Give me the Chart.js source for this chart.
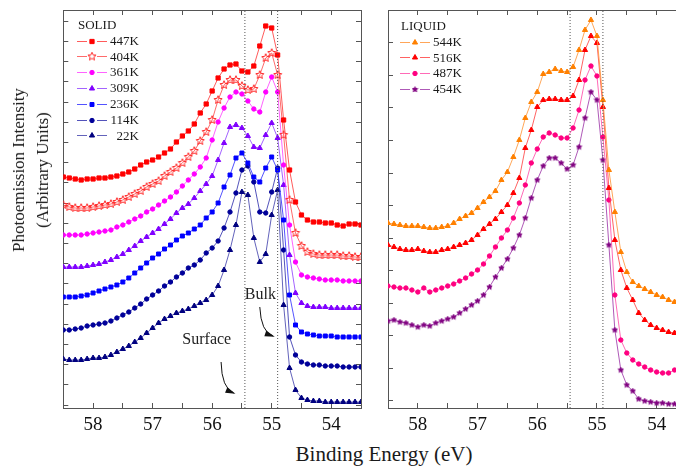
<!DOCTYPE html>
<html>
<head>
<meta charset="utf-8">
<script src="https://cdn.jsdelivr.net/npm/chart.js@4.4.0/dist/chart.umd.min.js"></script>
<style>
  html, body { margin: 0; padding: 0; background: #fff; overflow: hidden; }
  body { width: 676px; height: 466px; position: relative; font-family: "Liberation Serif", "DejaVu Serif", serif; color: #1a1a1a; }
  .box { position: absolute; top: 0; }
  #solidBox { left: 0; }
  #liquidBox { left: 330px; }
  .ytitle { position: absolute; left: 31px; top: 170px; transform: translate(-50%, -50%) rotate(-90deg);
            white-space: nowrap; text-align: center; font-size: 17px; line-height: 24px; }
  .xtitle { position: absolute; left: 384px; top: 454px; transform: translate(-50%, -50%); white-space: nowrap; font-size: 21px; }
  .legend { position: absolute; font-size: 13px; line-height: 15.8px; }
  .legend .head { margin-left: 2px; }
  .legend .row { display: flex; align-items: center; height: 15.8px; }
  .legend canvas { display: block; margin-right: 2px; }
  .legend .lab { display: inline-block; width: 29px; text-align: right; }
</style>
</head>
<body>
<div class="box" id="solidBox"><canvas id="solidChart" width="372" height="440"></canvas></div>
<div class="box" id="liquidBox"><canvas id="liquidChart" width="370" height="440"></canvas></div>
<div class="ytitle">Photoemission Intensity<br>(Arbitrary Units)</div>
<div class="xtitle">Binding Energy (eV)</div>
<div class="legend" id="solidLegend" style="left:76px; top:17px;"></div>
<div class="legend" id="liquidLegend" style="left:399px; top:18px;"></div>
<script>
// binding energy grid (eV), tick labels
const solidEnergy = Array.from({ length: 51 }, (_, i) => +(58.5 - 0.1 * i).toFixed(1));
const liquidEnergy = Array.from({ length: 49 }, (_, i) => +(58.5 - 0.1 * i).toFixed(1));
const xTickValues = [58.5, 58, 57.5, 57, 56.5, 56, 55.5, 55, 54.5, 54, 53.5];
const xTickLabels = [58, 57, 56, 55, 54];
const bulkSurfaceLines = [55.45, 54.9];

// SOLID
const solidLabels = ['447K', '404K', '361K', '309K', '236K', '114K', '22K'];
const s447 = [231,230,229,228,229,229,230,230,231,232,234,236,239,243,246,248,251,255,259,266,272,277,284,295,304,317,330,339,343,344,337,336,342,362,382,380,353,288,238,206,193,188,186,186,185,185,183,182,184,184,183];
const s404 = [203,201,200,200,200,201,202,203,204,206,208,211,214,217,221,224,227,232,236,240,245,251,257,267,276,288,308,323,328,328,322,318,319,333,350,355,333,273,208,175,162,156,154,153,153,153,153,152,152,151,151];
const s361 = [173,173,173,173,174,175,176,177,178,181,183,186,189,192,196,199,203,207,211,216,222,228,234,241,250,268,286,300,311,316,314,307,299,296,316,331,316,243,183,146,133,131,130,129,128,128,128,127,127,127,127];
const s309 = [141,141,141,141,142,143,144,146,148,151,154,158,162,167,171,175,179,184,189,195,200,204,210,217,224,232,248,265,281,283,280,272,261,260,273,285,270,223,153,115,105,102,101,101,101,100,100,100,100,100,100];
const s236 = [111,111,111,112,113,115,117,119,121,123,126,130,135,140,145,150,154,159,163,168,172,175,179,183,190,196,205,221,233,250,255,245,231,226,240,251,238,188,113,83,76,74,73,72,72,72,71,71,71,71,71];
const s114 = [78,78,79,80,82,83,84,85,87,90,93,96,100,104,109,113,117,122,126,131,135,140,143,148,155,160,167,180,196,215,238,242,226,196,195,216,240,158,71,53,46,44,43,43,42,42,42,41,41,41,41];
const s22 = [49,48,48,48,49,50,50,51,53,56,59,62,66,70,75,80,85,89,92,95,97,99,102,105,108,113,122,138,158,183,216,213,170,146,154,193,218,103,40,18,10,8,7,7,6,6,6,6,6,6,6];

// LIQUID
const liquidLabels = ['544K', '516K', '487K', '454K'];
const l544 = [185,184,183,182,182,182,181,180,180,181,182,185,189,192,195,200,206,211,217,228,236,251,268,290,306,316,334,336,339,337,336,341,358,378,388,372,308,238,196,156,136,126,122,119,116,113,111,108,106];
const l516 = [163,161,159,158,158,159,157,156,156,158,159,161,163,165,168,173,179,184,189,196,203,215,230,260,278,301,308,309,309,308,308,312,328,358,372,365,301,220,168,138,120,108,95,88,83,80,78,76,75];
const l487 = [122,121,120,120,118,116,120,116,118,120,122,124,127,130,134,138,144,152,161,170,178,190,205,223,245,259,271,275,273,270,270,280,298,328,342,332,271,208,113,68,55,48,44,41,38,36,35,35,38];
const l454 = [87,88,86,85,83,81,83,82,85,87,89,91,95,99,103,107,113,121,131,140,149,160,173,190,210,228,242,250,250,245,239,243,261,290,316,308,248,163,78,38,23,17,9,7,6,5,5,4,4];

// tick mark spacing (no labels) on the intensity axes
const solidYTicks = Array.from({ length: 20 }, (_, k) => 3 + 20.2 * k);
const liquidYTicks = Array.from({ length: 12 }, (_, k) => 7.5 + 32.5 * k);

const serif = '"Liberation Serif", "Times New Roman", serif';

function starImage(size, stroke, fill) {
  const c = document.createElement('canvas');
  c.width = c.height = size;
  const g = c.getContext('2d');
  const cx = size / 2, R = size / 2 - 0.7, r = R * 0.45;
  g.beginPath();
  for (let k = 0; k < 10; k++) {
    const a = -Math.PI / 2 + k * Math.PI / 5;
    const rr = k % 2 ? r : R;
    g.lineTo(cx + rr * Math.cos(a), cx + rr * Math.sin(a));
  }
  g.closePath();
  if (fill) { g.fillStyle = fill; g.fill(); }
  g.strokeStyle = stroke;
  g.lineWidth = 1;
  g.stroke();
  return c;
}

const solidStyle = [
  { marker: '#ff0000', fill: '#ff0000', line: 'rgba(255,50,50,0.8)', shape: 'rect', r: 3 },
  { marker: '#ff2a2a', fill: '#ff2a2a', line: 'rgba(255,70,70,0.8)', shape: starImage(10, '#ff2a2a', null), r: 4 },
  { marker: '#ff00ff', fill: '#ff00ff', line: 'rgba(255,60,255,0.8)', shape: 'circle', r: 2.2 },
  { marker: '#8000ff', fill: '#8000ff', line: 'rgba(140,60,255,0.8)', shape: 'triangle', r: 3 },
  { marker: '#0000ff', fill: '#0000ff', line: 'rgba(40,40,255,0.8)', shape: 'rect', r: 2.8 },
  { marker: '#000099', fill: '#000099', line: 'rgba(40,40,170,0.8)', shape: 'circle', r: 2.2 },
  { marker: '#000080', fill: '#000080', line: 'rgba(60,60,170,0.8)', shape: 'triangle', r: 3 }
];
const liquidStyle = [
  { marker: '#ff8000', fill: '#ff8000', line: 'rgba(255,150,60,0.85)', shape: 'triangle', r: 3 },
  { marker: '#ff0000', fill: '#ff0000', line: 'rgba(255,70,70,0.85)', shape: 'triangle', r: 3 },
  { marker: '#ff0080', fill: '#ff0080', line: 'rgba(255,80,170,0.85)', shape: 'circle', r: 2.2 },
  { marker: '#800080', fill: '#800080', line: 'rgba(160,60,170,0.85)', shape: starImage(7, '#800080', '#800080'), r: 3 }
];

function series(label, energy, values, st) {
  return {
    label: label,
    data: energy.map((e, i) => ({ x: e, y: values[i] })),
    borderColor: st.line,
    borderWidth: 1,
    pointStyle: st.shape,
    pointRadius: st.r,
    pointBackgroundColor: st.fill,
    pointBorderColor: st.marker,
    pointBorderWidth: 1,
    tension: 0
  };
}

function edgeLines() {
  return bulkSurfaceLines.map(e => ({
    label: '',
    data: [{ x: e, y: 0 }, { x: e, y: 398 }],
    borderColor: '#555',
    borderWidth: 1,
    borderDash: [1, 2],
    pointRadius: 0
  }));
}

// text + curved arrow annotations
const annotate = {
  id: 'annotate',
  afterDatasetsDraw(chart, args, opts) {
    if (!opts.items) return;
    const { ctx, scales: { x, y } } = chart;
    ctx.save();
    ctx.font = '16px ' + serif;
    ctx.fillStyle = '#222';
    ctx.strokeStyle = '#111';
    ctx.lineWidth = 1;
    ctx.textAlign = 'center';
    ctx.textBaseline = 'middle';
    opts.items.forEach(a => {
      ctx.fillText(a.text, x.getPixelForValue(a.at[0]), y.getPixelForValue(a.at[1]));
      const p = a.arrow.map(([e, v]) => [x.getPixelForValue(e), y.getPixelForValue(v)]);
      ctx.beginPath();
      ctx.moveTo(p[0][0], p[0][1]);
      ctx.quadraticCurveTo(p[1][0], p[1][1], p[2][0], p[2][1]);
      ctx.stroke();
      const ang = Math.atan2(p[2][1] - p[1][1], p[2][0] - p[1][0]);
      ctx.beginPath();
      ctx.moveTo(p[2][0] + 2 * Math.cos(ang), p[2][1] + 2 * Math.sin(ang));
      ctx.lineTo(p[2][0] - 8 * Math.cos(ang) + 3 * Math.sin(ang), p[2][1] - 8 * Math.sin(ang) - 3 * Math.cos(ang));
      ctx.lineTo(p[2][0] - 8 * Math.cos(ang) - 3 * Math.sin(ang), p[2][1] - 8 * Math.sin(ang) + 3 * Math.cos(ang));
      ctx.closePath();
      ctx.fillStyle = '#111';
      ctx.fill();
      ctx.fillStyle = '#222';
    });
    ctx.restore();
  }
};

function frameAxis(position, extra) {
  return Object.assign({
    type: 'linear',
    position: position,
    grid: { drawOnChartArea: false, drawTicks: true, tickLength: -5, tickColor: '#555' },
    border: { display: true, color: '#555', width: 1 },
    ticks: { display: false }
  }, extra);
}

function panelOptions(yTicks, yWidth, padRight, items) {
  const xCommon = { min: 53.5, max: 58.5, reverse: true,
    afterBuildTicks: s => { s.ticks = xTickValues.map(v => ({ value: v })); } };
  return {
    responsive: false,
    animation: false,
    devicePixelRatio: 1,
    layout: { padding: { top: 10, right: padRight, left: 0, bottom: 0 } },
    plugins: { legend: { display: false }, tooltip: { enabled: false }, annotate: { items: items } },
    scales: {
      x: frameAxis('bottom', Object.assign({}, xCommon, {
        ticks: {
          display: true, autoSkip: false, maxRotation: 0, padding: 11, color: '#111',
          font: { family: serif, size: 19 },
          callback: v => xTickLabels.includes(v) ? String(v) : ''
        },
        afterFit: s => { s.height = 32; }
      })),
      x2: frameAxis('top', Object.assign({}, xCommon, { afterFit: s => { s.height = 0; } })),
      y: frameAxis('left', {
        min: 0, max: 398,
        afterBuildTicks: s => { s.ticks = yTicks.map(v => ({ value: v })); },
        afterFit: s => { s.width = yWidth; }
      }),
      y2: frameAxis('right', {
        min: 0, max: 398,
        afterBuildTicks: s => { s.ticks = yTicks.map(v => ({ value: v })); },
        afterFit: s => { s.width = 0; }
      })
    }
  };
}

const solidValues = [s447, s404, s361, s309, s236, s114, s22];
new Chart(document.getElementById('solidChart'), {
  type: 'line',
  data: {
    datasets: edgeLines().concat(solidLabels.map((l, i) => series(l, solidEnergy, solidValues[i], solidStyle[i])))
  },
  options: panelOptions(solidYTicks, 63.3, 9, [
    { text: 'Bulk', at: [55.19, 113], arrow: [[55.2, 101], [55.18, 76], [54.98, 72]] },
    { text: 'Surface', at: [56.09, 68], arrow: [[55.85, 46], [55.84, 20], [55.64, 15]] }
  ]),
  plugins: [annotate]
});

const liquidValues = [l544, l516, l487, l454];
new Chart(document.getElementById('liquidChart'), {
  type: 'line',
  data: {
    datasets: edgeLines().concat(liquidLabels.map((l, i) => series(l, liquidEnergy, liquidValues[i], liquidStyle[i])))
  },
  options: panelOptions(liquidYTicks, 58, 13.5, null),
  plugins: [annotate]
});

// legends: line + marker icon, temperature label
function buildLegend(id, title, labels, styles) {
  const el = document.getElementById(id);
  const head = document.createElement('div');
  head.className = 'head';
  head.textContent = title;
  el.appendChild(head);
  labels.forEach((l, i) => {
    const st = styles[i];
    const row = document.createElement('div');
    row.className = 'row';
    const c = document.createElement('canvas');
    c.width = 32; c.height = 12;
    const g = c.getContext('2d');
    g.strokeStyle = st.line;
    g.lineWidth = 1;
    g.beginPath(); g.moveTo(1, 6.5); g.lineTo(11, 6.5); g.moveTo(21, 6.5); g.lineTo(31, 6.5); g.stroke();
    g.fillStyle = st.fill;
    g.strokeStyle = st.marker;
    Chart.helpers.drawPoint(g, { pointStyle: st.shape, radius: st.r, borderWidth: 1, rotation: 0 }, 16, 6.5);
    row.appendChild(c);
    const s = document.createElement('span');
    s.className = 'lab';
    s.textContent = l;
    row.appendChild(s);
    el.appendChild(row);
  });
}
buildLegend('solidLegend', 'SOLID', solidLabels, solidStyle);
buildLegend('liquidLegend', 'LIQUID', liquidLabels, liquidStyle);
</script>
</body>
</html>
